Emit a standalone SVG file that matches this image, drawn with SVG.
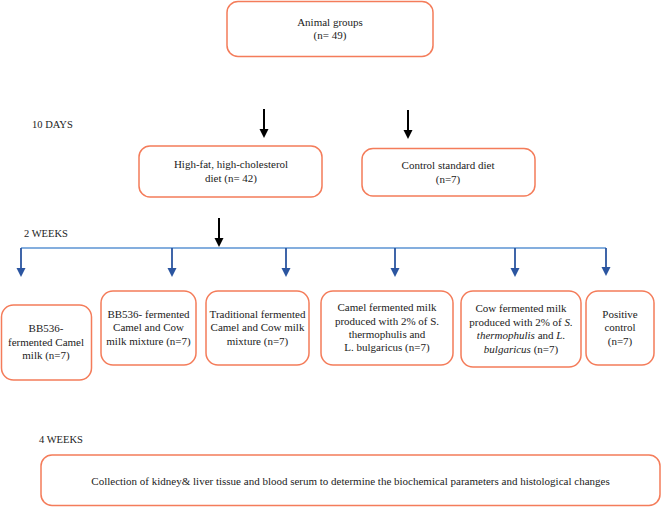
<svg xmlns="http://www.w3.org/2000/svg" width="662" height="507" viewBox="0 0 662 507">
<style>
.box{fill:#fff;stroke:#f47c5a;stroke-width:1.5}
text{font-family:"Liberation Serif","Times New Roman",serif;font-size:11px;fill:#222;text-anchor:middle}
.lbl{text-anchor:start;font-size:10.5px}
.blk{stroke:#000;stroke-width:2;fill:none}
.hb{stroke:#5b93d3;stroke-width:1.6;fill:none}
.vb{stroke:#2b55a0;stroke-width:1.8;fill:none}
</style>
<defs>
<marker id="ab" markerWidth="8" markerHeight="8" refX="4" refY="8" orient="auto" markerUnits="userSpaceOnUse" viewBox="0 0 8 8"><path d="M0,0 L8,0 L4,8 Z" fill="#000" transform="rotate(-90 4 4)"/></marker>
</defs>
<rect width="662" height="507" fill="#fff"/>
<g id="labels">
<text class="lbl" x="32" y="128">10 DAYS</text>
<text class="lbl" x="24" y="237">2 WEEKS</text>
<text class="lbl" x="39" y="443">4 WEEKS</text>
</g>
<g id="connectors">
<line class="blk" x1="264" y1="109" x2="264" y2="130"/>
<path d="M259.5,129 L268.5,129 L264,138 Z" fill="#000"/>
<line class="blk" x1="408" y1="110" x2="408" y2="131"/>
<path d="M403.5,130 L412.5,130 L408,139 Z" fill="#000"/>
<line class="blk" x1="219" y1="218" x2="219" y2="239"/>
<path d="M214.5,238 L223.5,238 L219,247 Z" fill="#000"/>
<line class="hb" x1="21" y1="248" x2="606" y2="248"/>
<g class="vb">
<line x1="21" y1="248" x2="21" y2="269"/>
<line x1="172" y1="248" x2="172" y2="269"/>
<line x1="286" y1="248" x2="286" y2="269"/>
<line x1="395" y1="248" x2="395" y2="269"/>
<line x1="515" y1="248" x2="515" y2="269"/>
<line x1="606" y1="248" x2="606" y2="268"/>
</g>
<g fill="#2b55a0">
<path d="M16.5,268 L25.5,268 L21,277 Z"/>
<path d="M167.5,268 L176.5,268 L172,277 Z"/>
<path d="M281.5,268 L290.5,268 L286,277 Z"/>
<path d="M390.5,268 L399.5,268 L395,277 Z"/>
<path d="M510.5,268 L519.5,268 L515,277 Z"/>
<path d="M601.5,267 L610.5,267 L606,276 Z"/>
</g>
</g>
<g id="animal">
<rect class="box" x="227" y="1.5" width="206" height="55" rx="11"/>
<text x="330" y="26">Animal groups</text>
<text x="330" y="39">(n= 49)</text>
</g>
<g id="highfat">
<rect class="box" x="139" y="146" width="183" height="51" rx="11"/>
<text x="231" y="168">High-fat, high-cholesterol</text>
<text x="231" y="182">diet (n= 42)</text>
</g>
<g id="control">
<rect class="box" x="362" y="148.5" width="173" height="47.5" rx="11"/>
<text x="448" y="169">Control standard diet</text>
<text x="448" y="183">(n=7)</text>
</g>
<g id="g1">
<rect class="box" x="1.5" y="305" width="90" height="75" rx="12"/>
<text x="46" y="332">BB536-</text>
<text x="46" y="346">fermented Camel</text>
<text x="46" y="359">milk (n=7)</text>
</g>
<g id="g2">
<rect class="box" x="101" y="291" width="95" height="74" rx="12"/>
<text x="148.5" y="318">BB536- fermented</text>
<text x="148.5" y="331">Camel and Cow</text>
<text x="148.5" y="345">milk mixture (n=7)</text>
</g>
<g id="g3">
<rect class="box" x="206" y="291" width="103" height="74" rx="12"/>
<text x="257.5" y="318">Traditional fermented</text>
<text x="257.5" y="331">Camel and Cow milk</text>
<text x="257.5" y="345">mixture (n=7)</text>
</g>
<g id="g4">
<rect class="box" x="321" y="291" width="132" height="74" rx="12"/>
<text x="387" y="311">Camel fermented milk</text>
<text x="387" y="325">produced with 2% of S.</text>
<text x="387" y="338">thermophulis and</text>
<text x="387" y="351">L. bulgaricus (n=7)</text>
</g>
<g id="g5">
<rect class="box" x="461" y="291" width="120" height="76" rx="12"/>
<text x="521" y="312">Cow fermented milk</text>
<text x="521" y="326">produced with 2% of <tspan font-style="italic">S.</tspan></text>
<text x="521" y="339"><tspan font-style="italic">thermophulis</tspan> and <tspan font-style="italic">L.</tspan></text>
<text x="521" y="353"><tspan font-style="italic">bulgaricus</tspan> (n=7)</text>
</g>
<g id="g6">
<rect class="box" x="586" y="291" width="68" height="74" rx="12"/>
<text x="620" y="318">Positive</text>
<text x="620" y="331">control</text>
<text x="620" y="345">(n=7)</text>
</g>
<g id="collection">
<rect class="box" x="41" y="455" width="619" height="50.5" rx="11"/>
<text x="350.5" y="485">Collection of kidney&amp; liver tissue and blood serum to determine the biochemical parameters and histological changes</text>
</g>
</svg>
